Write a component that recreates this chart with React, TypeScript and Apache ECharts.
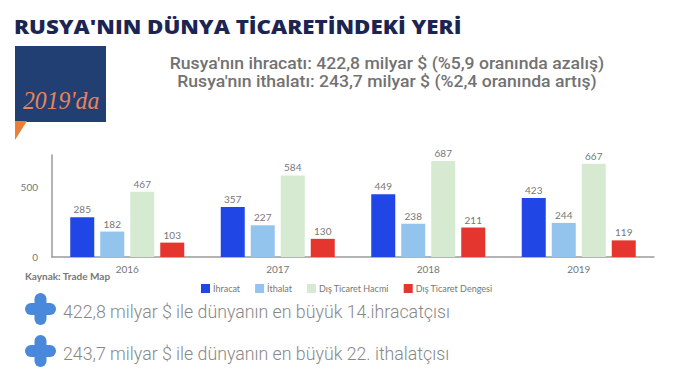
import React, { useEffect, useRef } from "react";
import * as echarts from "echarts";

const years = ["2016", "2017", "2018", "2019"];
const ihracat = [285, 357, 449, 423];
const ithalat = [182, 227, 238, 244];
const hacim = [467, 584, 687, 667];
const denge = [103, 130, 211, 119];
const seriesNames = ["İhracat", "İthalat", "Dış Ticaret Hacmi", "Dış Ticaret Dengesi"];
const seriesColors = ["#2146e6", "#92c4ee", "#d6e9d1", "#e5352f"];

const titleText = "RUSYA'NIN DÜNYA TİCARETİNDEKİ YERİ";
const subLine1 = "Rusya'nın ihracatı: 422,8 milyar $ (%5,9 oranında azalış)";
const subLine2 = "Rusya'nın ithalatı: 243,7 milyar $ (%2,4 oranında artış)";
const note1 = "422,8 milyar $ ile dünyanın en büyük 14.ihracatçısı";
const note2 = "243,7 milyar $ ile dünyanın en büyük 22. ithalatçısı";
const sourceText = "Kaynak: Trade Map";

function plus(cx: number, cy: number) {
  const c = "#4a88db";
  return [
    { type: "rect", shape: { x: cx - 15.5, y: cy - 6, width: 31, height: 12, r: 6 }, style: { fill: c } },
    { type: "rect", shape: { x: cx - 6, y: cy - 16, width: 12, height: 32, r: 6 }, style: { fill: c } },
  ];
}

function txt(
  text: string,
  x: number,
  y: number,
  scaleX: number,
  font: Record<string, unknown>,
  align: string = "left"
) {
  return {
    type: "text",
    x,
    y,
    scaleX,
    style: {
      text,
      x: 0,
      y: 0,
      textAlign: align,
      textVerticalAlign: "middle",
      verticalAlign: "middle",
      ...font,
    },
  };
}

export default function App() {
  const ref = useRef<HTMLDivElement>(null);
  useEffect(() => {
    if (!ref.current) return;
    const chart = echarts.init(ref.current, null, { renderer: "svg" });
    const data = [ihracat, ithalat, hacim, denge];
    chart.setOption({
      animation: false,
      backgroundColor: "#ffffff",
      textStyle: { fontFamily: "Lato" },
      grid: { left: 52, right: 25, top: 155, bottom: 126 },
      legend: {
        data: seriesNames,
        left: 196,
        top: 279,
        itemWidth: 9,
        itemHeight: 9,
        itemGap: 15,
        icon: "rect",
        textStyle: { fontSize: 9, color: "#777", fontFamily: "Lato", padding: [0, 0, 0, -2] },
      },
      xAxis: {
        type: "category",
        data: years,
        axisLine: { lineStyle: { color: "#9a9a9a", width: 1.5 } },
        axisTick: { show: false },
        axisLabel: { fontSize: 10, color: "#777", margin: 7 },
      },
      yAxis: {
        type: "value",
        min: 0,
        max: 730,
        interval: 500,
        splitLine: { show: false },
        axisLine: { show: true, lineStyle: { color: "#9a9a9a", width: 1.5 } },
        axisTick: { show: false },
        axisLabel: { fontSize: 10, color: "#777", margin: 14, showMaxLabel: false },
      },
      series: seriesNames.map((n, i) => ({
        name: n,
        type: "bar",
        data: data[i],
        barWidth: 24,
        barGap: "25%",
        itemStyle: { color: seriesColors[i] },
        label: { show: true, position: "top", distance: 3, fontSize: 10, color: "#777" },
      })),
      graphic: [
        txt(titleText, 14, 26, 1.115, {
          fontSize: 20,
          fontWeight: 800,
          fontFamily: "Open Sans",
          fill: "#1c2552",
        }),
        { type: "rect", shape: { x: 15, y: 46, width: 91, height: 76 }, style: { fill: "#213f72" } },
        { type: "polygon", shape: { points: [[15, 121], [27, 121], [15, 140]] }, style: { fill: "#ec7f36" } },
        txt("2019'da", 23, 100, 0.95, {
          fontSize: 25,
          fontStyle: "italic",
          fontFamily: "Liberation Serif",
          fill: "#e8845c",
        }),
        txt(subLine1, 387, 63, 1.1, {
          fontSize: 16,
          fontWeight: 500,
          fontFamily: "Roboto",
          fill: "#727272",
        }, "center"),
        txt(subLine2, 387, 81, 1.1, {
          fontSize: 16,
          fontWeight: 500,
          fontFamily: "Roboto",
          fill: "#727272",
        }, "center"),
        txt(sourceText, 25, 276, 1, {
          fontSize: 10,
          fontWeight: "bold",
          fontFamily: "Lato",
          fill: "#777",
        }),
        ...plus(40.5, 309),
        ...plus(40.5, 351),
        txt(note1, 63, 311, 0.935, {
          fontSize: 19,
          fontWeight: 300,
          fontFamily: "Roboto",
          fill: "#888",
        }),
        txt(note2, 63, 353, 0.935, {
          fontSize: 19,
          fontWeight: 300,
          fontFamily: "Roboto",
          fill: "#888",
        }),
      ],
    });
    return () => chart.dispose();
  }, []);
  return (
    <div
      ref={ref}
      style={{ position: "fixed", left: 0, top: 0, width: 679, height: 383, background: "#fff" }}
    />
  );
}
